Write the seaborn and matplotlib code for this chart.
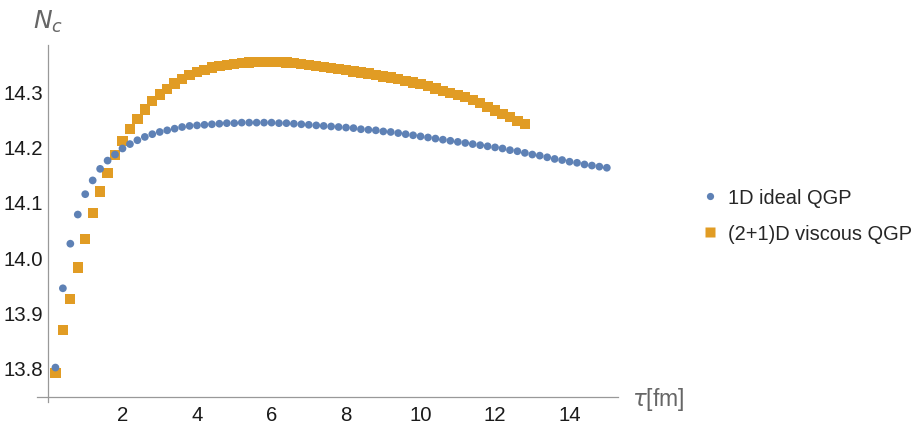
import matplotlib
matplotlib.use("Agg")
import matplotlib.pyplot as plt
from matplotlib.ticker import MultipleLocator, FixedLocator
from matplotlib.lines import Line2D
import seaborn as sns
import pandas as pd

# ---- data ----
tau_ideal = [0.2, 0.4, 0.6, 0.8, 1.0, 1.2, 1.4, 1.6, 1.8, 2.0,
             2.2, 2.4, 2.6, 2.8, 3.0, 3.2, 3.4, 3.6, 3.8, 4.0,
             4.2, 4.4, 4.6, 4.8, 5.0, 5.2, 5.4, 5.6, 5.8, 6.0,
             6.2, 6.4, 6.6, 6.8, 7.0, 7.2, 7.4, 7.6, 7.8, 8.0,
             8.2, 8.4, 8.6, 8.8, 9.0, 9.2, 9.4, 9.6, 9.8, 10.0,
             10.2, 10.4, 10.6, 10.8, 11.0, 11.2, 11.4, 11.6, 11.8, 12.0,
             12.2, 12.4, 12.6, 12.8, 13.0, 13.2, 13.4, 13.6, 13.8, 14.0,
             14.2, 14.4, 14.6, 14.8, 15.0]
nc_ideal = [13.801, 13.945, 14.026, 14.079, 14.116, 14.141, 14.162, 14.177, 14.188, 14.199,
            14.207, 14.214, 14.220, 14.225, 14.229, 14.232, 14.235, 14.238, 14.240, 14.241,
            14.242, 14.243, 14.244, 14.245, 14.245, 14.246, 14.246, 14.246, 14.246, 14.246,
            14.245, 14.245, 14.244, 14.243, 14.242, 14.241, 14.240, 14.239, 14.238, 14.237,
            14.236, 14.234, 14.233, 14.232, 14.230, 14.229, 14.227, 14.225, 14.223, 14.221,
            14.219, 14.217, 14.215, 14.213, 14.211, 14.209, 14.207, 14.205, 14.203, 14.201,
            14.199, 14.196, 14.194, 14.191, 14.188, 14.186, 14.183, 14.180, 14.178, 14.175,
            14.173, 14.170, 14.168, 14.166, 14.164]

tau_visc = [0.2, 0.4, 0.6, 0.8, 1.0, 1.2, 1.4, 1.6, 1.8, 2.0,
            2.2, 2.4, 2.6, 2.8, 3.0, 3.2, 3.4, 3.6, 3.8, 4.0,
            4.2, 4.4, 4.6, 4.8, 5.0, 5.2, 5.4, 5.6, 5.8, 6.0,
            6.2, 6.4, 6.6, 6.8, 7.0, 7.2, 7.4, 7.6, 7.8, 8.0,
            8.2, 8.4, 8.6, 8.8, 9.0, 9.2, 9.4, 9.6, 9.8, 10.0,
            10.2, 10.4, 10.6, 10.8, 11.0, 11.2, 11.4, 11.6, 11.8, 12.0,
            12.2, 12.4, 12.6, 12.8]
nc_visc = [13.791, 13.869, 13.926, 13.983, 14.035, 14.082, 14.121, 14.155, 14.187, 14.212,
           14.234, 14.253, 14.270, 14.285, 14.297, 14.307, 14.317, 14.325, 14.332, 14.338,
           14.342, 14.346, 14.349, 14.351, 14.353, 14.354, 14.355, 14.356, 14.356, 14.356,
           14.356, 14.355, 14.354, 14.353, 14.351, 14.349, 14.347, 14.345, 14.343, 14.341,
           14.339, 14.337, 14.335, 14.333, 14.330, 14.328, 14.325, 14.322, 14.319, 14.316,
           14.312, 14.308, 14.304, 14.300, 14.296, 14.292, 14.287, 14.282, 14.275, 14.268,
           14.262, 14.256, 14.249, 14.243]

labels = ["1D ideal QGP", "(2+1)D viscous QGP"]
x_ticks = [2, 4, 6, 8, 10, 12, 14]
y_ticks = [13.8, 13.9, 14.0, 14.1, 14.2, 14.3]
y_tick_labels = ["13.8", "13.9", "14.0", "14.1", "14.2", "14.3"]

# ---- style ----
BLUE = "#5E81B5"
ORANGE = "#E19C24"
AXIS = "#999999"
GRAY_TXT = "#666666"

sns.set_style("white")
plt.rcParams["font.family"] = ["Liberation Sans", "DejaVu Sans"]
plt.rcParams["mathtext.fontset"] = "dejavusans"

df_ideal = pd.DataFrame({"tau": tau_ideal, "Nc": nc_ideal})
df_visc = pd.DataFrame({"tau": tau_visc, "Nc": nc_visc})

fig = plt.figure(figsize=(9.14, 4.23), dpi=100)
ax = fig.add_axes([36.8 / 914, 0.0504, (618 - 36.8) / 914, 0.8432])

sns.scatterplot(data=df_visc, x="tau", y="Nc", ax=ax, marker="s", s=55,
                color=ORANGE, edgecolor="none", linewidth=0, zorder=3)
sns.scatterplot(data=df_ideal, x="tau", y="Nc", ax=ax, marker="o", s=31,
                color=BLUE, edgecolor="none", linewidth=0, zorder=4)

ax.set_xlim(-0.3, 15.3)
ax.set_ylim(13.739, 14.387)
ax.set_xlabel("")
ax.set_ylabel("")

for side in ["top", "right"]:
    ax.spines[side].set_visible(False)
ax.spines["left"].set_position(("data", 0))
ax.spines["bottom"].set_position(("data", 13.748))
for side in ["left", "bottom"]:
    ax.spines[side].set_color(AXIS)
    ax.spines[side].set_linewidth(0.9)

ax.xaxis.set_major_locator(FixedLocator(x_ticks))
ax.xaxis.set_minor_locator(MultipleLocator(0.5))
ax.yaxis.set_major_locator(FixedLocator(y_ticks))
ax.set_yticklabels(y_tick_labels)
ax.yaxis.set_minor_locator(MultipleLocator(0.02))

ax.tick_params(axis="both", which="both", direction="in", color=AXIS,
               labelcolor="#1a1a1a", labelsize=14.7, width=0.8)
ax.tick_params(axis="x", which="major", length=4.5, pad=6.5)
ax.tick_params(axis="x", which="minor", length=2.5)
ax.tick_params(axis="y", which="major", length=4.5, pad=3.5)
ax.tick_params(axis="y", which="minor", length=2.5)

fig.text(48 / 914, 1 - 22 / 423, r"$N_c$", color=GRAY_TXT, fontsize=18,
         ha="center", va="center")
fig.text(632 / 914, 1 - 399 / 423, r"$\tau$[fm]", color=GRAY_TXT, fontsize=16.5,
         ha="left", va="center")

handles = [
    Line2D([], [], linestyle="none", marker="o", markersize=5.2,
           markerfacecolor=BLUE, markeredgecolor="none"),
    Line2D([], [], linestyle="none", marker="s", markersize=6.5,
           markerfacecolor=ORANGE, markeredgecolor="none"),
]
fig.legend(handles, labels, loc="center left",
           bbox_to_anchor=(700 / 914, 1 - 216 / 423), frameon=False,
           fontsize=14.4, labelspacing=0.85, handletextpad=0.4,
           handlelength=1.0, borderaxespad=0, borderpad=0)

fig.savefig("out.png", dpi=100)
